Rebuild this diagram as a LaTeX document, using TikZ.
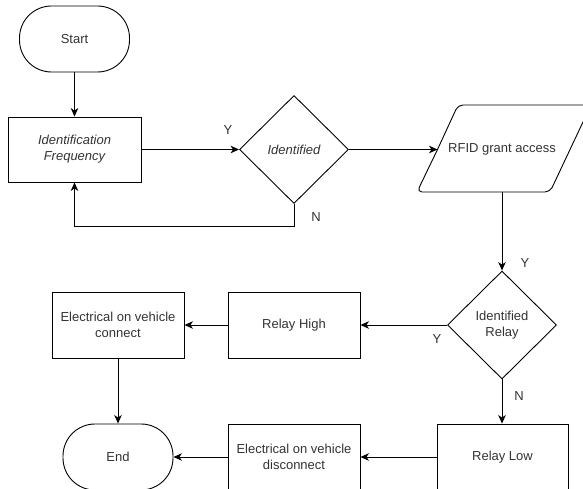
\documentclass[tikz,border=0pt]{standalone}
\usepackage{fontspec}
\setmainfont{Liberation Sans}
\usetikzlibrary{shapes.geometric,arrows.meta}
\definecolor{txt}{HTML}{333333}
\begin{document}
\begin{tikzpicture}[x=1pt,y=-1pt,
  every node/.style={font=\fontsize{13}{16}\selectfont, text=txt},
  base/.style={draw=black, line width=0.9pt, inner sep=0pt, align=center},
  procbox/.style={base, rectangle, minimum width=132pt, minimum height=66pt},
  termbox/.style={base, rectangle, rounded corners=32pt, minimum width=110pt, minimum height=66pt},
  decbox/.style={base, diamond, minimum width=109pt, minimum height=108pt},
  outline/.style={draw=black, line width=0.9pt, rounded corners=5pt},
  conn/.style={draw=black, line width=0.9pt, -{Stealth[length=8.5pt,width=7.5pt,inset=2.5pt]}},
  lbl/.style={inner sep=0pt}
]
\useasboundingbox (0,0) rectangle (583,489);

\node[termbox] (start) at (74.5,39) {Start};
\node[procbox, minimum width=133pt, minimum height=65pt] (freq) at (74.5,149.5) {\itshape Identification\\\itshape Frequency};
\node[decbox] (d1) at (294,149.5) {\itshape Identified};
\node (rfid) at (502,149) {RFID grant access};
\coordinate (pbl) at (417,192);
\coordinate (pbr) at (550,192);
\coordinate (ptr) at (591,105);
\coordinate (ptl) at (458,105);
\coordinate (pw) at (437.5,149.5);
\coordinate (ps) at (502,192);
\draw[outline] (pw) -- (pbl) -- (pbr) -- (ptr) -- (ptl) -- (pw);
\node[decbox] (d2) at (502,325) {Identified\\Relay};
\node[procbox] (high) at (294,325) {Relay High};
\node[procbox] (conn) at (118,325) {Electrical on vehicle\\connect};
\node[termbox] (end) at (118,457) {End};
\node[procbox] (disc) at (294,457) {Electrical on vehicle\\disconnect};
\node[procbox, minimum width=131pt] (low) at (502.5,457) {Relay Low};

\coordinate (loopa) at (294,226);
\coordinate (loopb) at (74.5,226);

\draw[conn] (start.south) -- (freq.north);
\draw[conn] (freq.east) -- (d1.west);
\draw[conn] (d1.south) -- (loopa) -- (loopb) -- (freq.south);
\draw[conn] (d1.east) -- (pw);
\draw[conn] (ps) -- (d2.north);
\draw[conn] (d2.west) -- (high.east);
\draw[conn] (high.west) -- (conn.east);
\draw[conn] (conn.south) -- (end.north);
\draw[conn] (d2.south) -- (low.north -| d2.south);
\draw[conn] (low.west |- disc.east) -- (disc.east);
\draw[conn] (disc.west) -- (end.east);

\node[lbl] (ly1) at (228,130) {Y};
\node[lbl] (ln1) at (316,217) {N};
\node[lbl] (ly2) at (525,263) {Y};
\node[lbl] (ly3) at (437,339) {Y};
\node[lbl] (ln2) at (519,396) {N};
\end{tikzpicture}
\end{document}
